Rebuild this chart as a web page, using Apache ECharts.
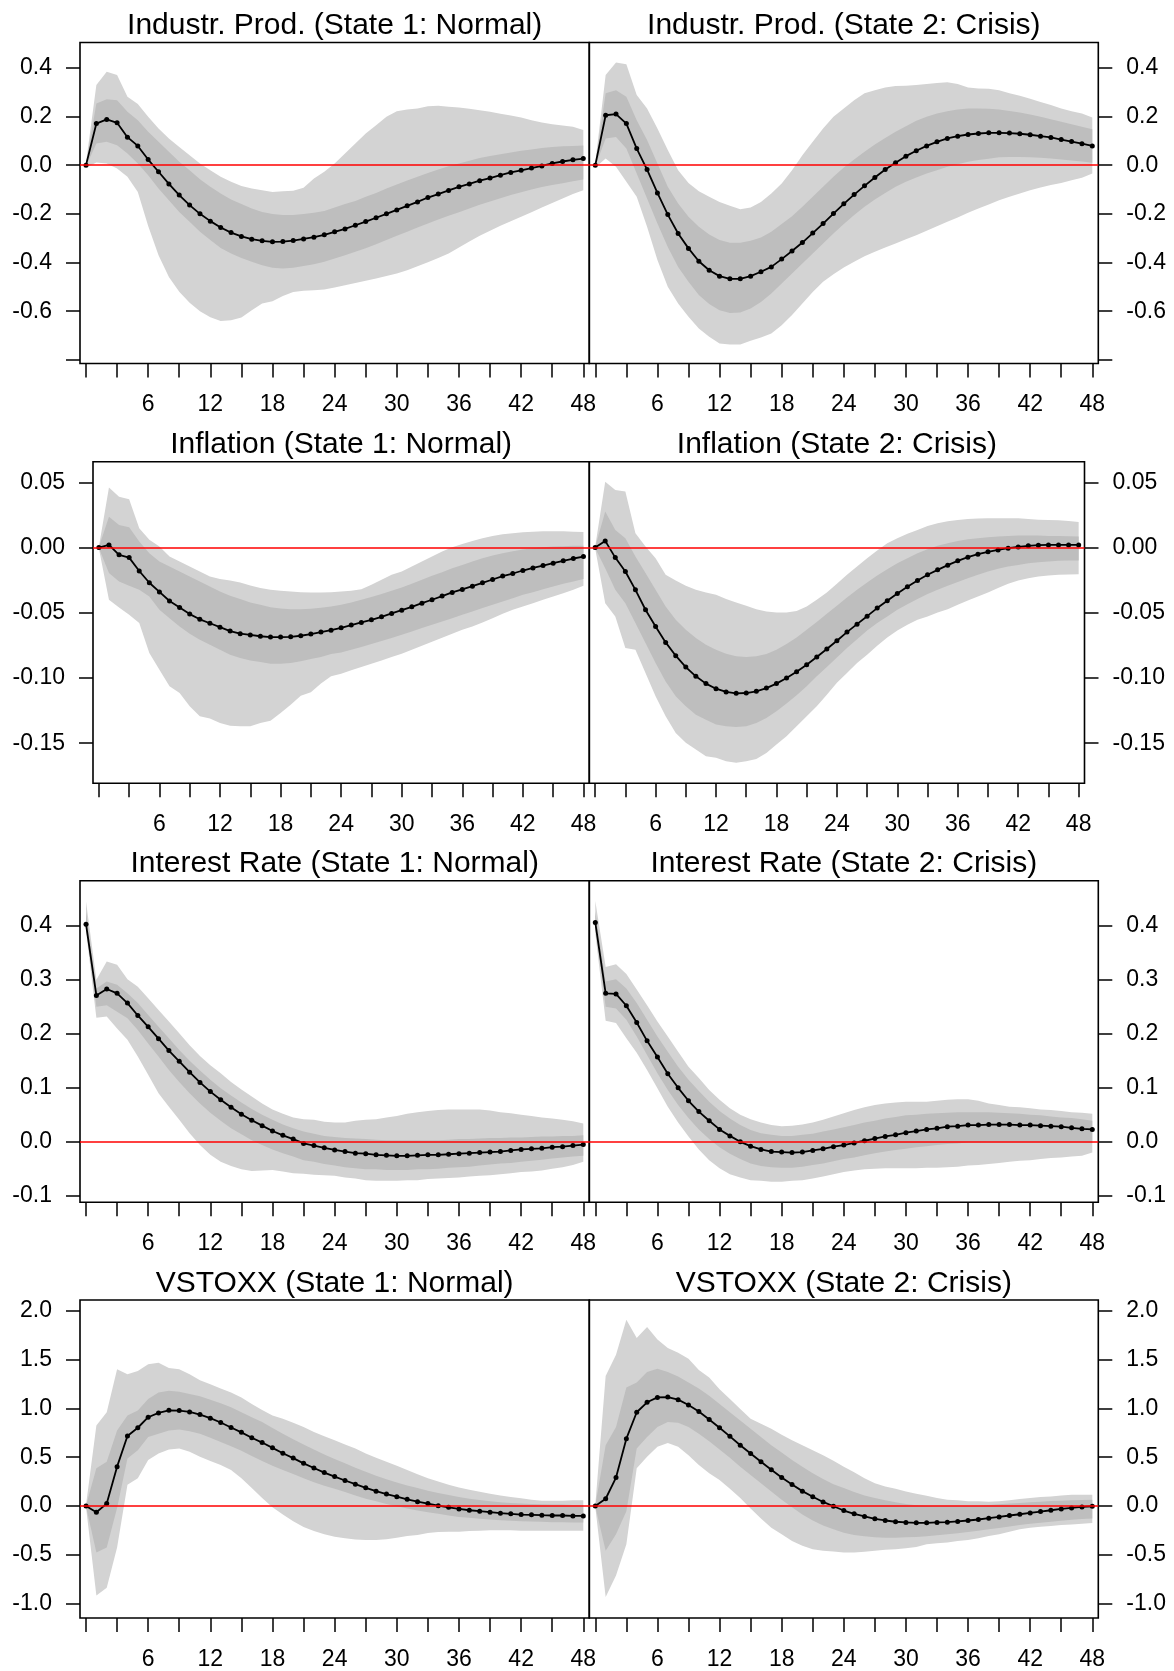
<!DOCTYPE html>
<html>
<head>
<meta charset="utf-8">
<script src="https://cdn.jsdelivr.net/npm/echarts@6/dist/echarts.min.js"></script>
<style>
html,body{margin:0;padding:0;background:#fff;}
#chart{width:1174px;height:1671px;}
</style>
</head>
<body>
<div id="chart"></div>
<script>
// ---------------- DATA ----------------
const horizon = Array.from({length: 49}, (_, i) => i); // months 0..48
const xTickValues = [0,3,6,9,12,15,18,21,24,27,30,33,36,39,42,45,48];
const xLabelValues = [6,12,18,24,30,36,42,48];

const titles = [
  ['Industr. Prod. (State 1: Normal)', 'Industr. Prod. (State 2: Crisis)'],
  ['Inflation (State 1: Normal)', 'Inflation (State 2: Crisis)'],
  ['Interest Rate (State 1: Normal)', 'Interest Rate (State 2: Crisis)'],
  ['VSTOXX (State 1: Normal)', 'VSTOXX (State 2: Crisis)']
];

const yTicksIP = [-0.8,-0.6,-0.4,-0.2,0,0.2,0.4];
const yLabelsIP = [-0.6,-0.4,-0.2,0,0.2,0.4];
const yTicksINF = [-0.15,-0.1,-0.05,0,0.05];
const yTicksIR = [-0.1,0,0.1,0.2,0.3,0.4];
const yTicksVS = [-1,-0.5,0,0.5,1,1.5,2];

// Industrial production, state 1
const ipN_med = [0,0.171,0.188,0.174,0.115,0.079,0.023,-0.027,-0.077,-0.123,-0.164,-0.2,-0.23,-0.256,-0.277,-0.293,-0.304,-0.311,-0.315,-0.314,-0.31,-0.303,-0.296,-0.286,-0.274,-0.262,-0.247,-0.232,-0.216,-0.2,-0.184,-0.167,-0.151,-0.133,-0.119,-0.104,-0.089,-0.077,-0.064,-0.053,-0.041,-0.03,-0.021,-0.012,-0.003,0.007,0.015,0.022,0.027];
const ipN_oUp = [0.01,0.329,0.384,0.37,0.281,0.251,0.199,0.151,0.11,0.075,0.041,0.007,-0.021,-0.048,-0.068,-0.086,-0.096,-0.103,-0.11,-0.107,-0.105,-0.093,-0.055,-0.027,0.007,0.048,0.089,0.13,0.164,0.199,0.222,0.229,0.233,0.242,0.244,0.24,0.237,0.232,0.226,0.219,0.211,0.204,0.196,0.185,0.175,0.168,0.163,0.158,0.144];
const ipN_oLo = [-0.01,0.011,0.007,-0.014,-0.048,-0.11,-0.25,-0.37,-0.46,-0.52,-0.565,-0.6,-0.625,-0.64,-0.637,-0.626,-0.596,-0.568,-0.559,-0.538,-0.521,-0.516,-0.514,-0.511,-0.503,-0.493,-0.484,-0.475,-0.466,-0.455,-0.445,-0.432,-0.415,-0.399,-0.381,-0.363,-0.338,-0.314,-0.29,-0.27,-0.249,-0.23,-0.212,-0.193,-0.174,-0.155,-0.137,-0.119,-0.103];
const ipN_iUp = [0.005,0.253,0.271,0.267,0.219,0.185,0.137,0.096,0.055,0.014,-0.021,-0.058,-0.089,-0.116,-0.141,-0.16,-0.178,-0.192,-0.201,-0.205,-0.205,-0.201,-0.196,-0.188,-0.174,-0.16,-0.147,-0.13,-0.114,-0.096,-0.079,-0.063,-0.048,-0.032,-0.018,-0.004,0.007,0.018,0.029,0.038,0.045,0.052,0.059,0.064,0.071,0.075,0.078,0.079,0.081];
const ipN_iLo = [-0.005,0.089,0.096,0.082,0.048,0.007,-0.041,-0.096,-0.144,-0.192,-0.233,-0.274,-0.308,-0.34,-0.363,-0.381,-0.397,-0.411,-0.422,-0.425,-0.422,-0.414,-0.407,-0.397,-0.384,-0.37,-0.356,-0.341,-0.325,-0.308,-0.29,-0.274,-0.256,-0.24,-0.223,-0.208,-0.193,-0.178,-0.163,-0.149,-0.136,-0.123,-0.111,-0.1,-0.09,-0.082,-0.074,-0.066,-0.059];

// Industrial production, state 2
const ipC_med = [0,0.205,0.21,0.171,0.068,-0.018,-0.114,-0.203,-0.281,-0.342,-0.395,-0.432,-0.456,-0.467,-0.467,-0.456,-0.438,-0.418,-0.386,-0.353,-0.318,-0.279,-0.24,-0.199,-0.159,-0.121,-0.085,-0.051,-0.018,0.01,0.037,0.059,0.079,0.096,0.11,0.119,0.126,0.13,0.133,0.133,0.132,0.129,0.125,0.119,0.114,0.105,0.097,0.088,0.079];
const ipC_oUp = [0.01,0.37,0.422,0.415,0.288,0.233,0.151,0.062,-0.021,-0.073,-0.107,-0.13,-0.151,-0.167,-0.181,-0.174,-0.151,-0.116,-0.075,-0.021,0.041,0.096,0.151,0.199,0.233,0.267,0.295,0.308,0.319,0.325,0.326,0.329,0.333,0.338,0.341,0.333,0.319,0.315,0.314,0.308,0.295,0.285,0.273,0.26,0.247,0.233,0.222,0.212,0.196];
const ipC_oLo = [-0.01,0.027,-0.007,-0.068,-0.13,-0.253,-0.39,-0.5,-0.568,-0.623,-0.671,-0.705,-0.733,-0.737,-0.737,-0.722,-0.708,-0.692,-0.658,-0.616,-0.568,-0.521,-0.479,-0.448,-0.421,-0.397,-0.374,-0.356,-0.338,-0.322,-0.304,-0.288,-0.27,-0.251,-0.233,-0.215,-0.196,-0.178,-0.162,-0.144,-0.13,-0.116,-0.103,-0.092,-0.082,-0.073,-0.062,-0.052,-0.034];
const ipC_iUp = [0.005,0.295,0.308,0.281,0.185,0.103,0.007,-0.089,-0.158,-0.212,-0.253,-0.285,-0.308,-0.319,-0.319,-0.311,-0.297,-0.274,-0.242,-0.21,-0.171,-0.13,-0.089,-0.048,-0.01,0.023,0.055,0.085,0.112,0.137,0.16,0.182,0.199,0.212,0.222,0.229,0.233,0.233,0.232,0.229,0.223,0.216,0.208,0.199,0.189,0.178,0.168,0.158,0.148];
const ipC_iLo = [-0.005,0.11,0.116,0.068,-0.034,-0.137,-0.24,-0.336,-0.418,-0.479,-0.534,-0.571,-0.596,-0.607,-0.605,-0.589,-0.562,-0.527,-0.486,-0.445,-0.404,-0.363,-0.322,-0.281,-0.242,-0.205,-0.171,-0.141,-0.114,-0.089,-0.068,-0.051,-0.034,-0.021,-0.007,0.004,0.014,0.021,0.026,0.032,0.034,0.034,0.033,0.03,0.027,0.023,0.019,0.015,0.01];

// Inflation, state 1
const infN_med = [0,0.002,-0.0056,-0.0077,-0.018,-0.027,-0.034,-0.041,-0.046,-0.051,-0.055,-0.058,-0.061,-0.064,-0.066,-0.067,-0.068,-0.0686,-0.0686,-0.0684,-0.0676,-0.0663,-0.0648,-0.0633,-0.0615,-0.0594,-0.0574,-0.0554,-0.0531,-0.0505,-0.048,-0.0454,-0.0426,-0.04,-0.0372,-0.0344,-0.0321,-0.0296,-0.027,-0.0245,-0.0219,-0.0199,-0.0176,-0.0156,-0.0138,-0.012,-0.0102,-0.0084,-0.0069];
const infN_oUp = [0.0005,0.046,0.039,0.037,0.0148,0.0059,0.0008,-0.0069,-0.0107,-0.0145,-0.0184,-0.0222,-0.0242,-0.0253,-0.0268,-0.0291,-0.0311,-0.0324,-0.0332,-0.0337,-0.0342,-0.0344,-0.0344,-0.0342,-0.0337,-0.0332,-0.0319,-0.0286,-0.0247,-0.0209,-0.0184,-0.0145,-0.0107,-0.0069,-0.0031,0.0003,0.0028,0.0051,0.0071,0.0089,0.0102,0.011,0.0117,0.0122,0.0125,0.0125,0.0125,0.0122,0.012];
const infN_oLo = [-0.0005,-0.04,-0.0459,-0.0515,-0.0579,-0.0809,-0.0936,-0.1064,-0.1115,-0.1217,-0.1293,-0.1311,-0.1344,-0.1365,-0.137,-0.137,-0.1344,-0.1327,-0.1268,-0.1204,-0.1135,-0.111,-0.1043,-0.0987,-0.0967,-0.0941,-0.0916,-0.089,-0.0865,-0.0839,-0.0814,-0.0783,-0.0753,-0.0722,-0.0691,-0.0661,-0.063,-0.0605,-0.0574,-0.0541,-0.0508,-0.0477,-0.0452,-0.0426,-0.04,-0.0375,-0.035,-0.0324,-0.0293];
const infN_iUp = [0.0003,0.0237,0.0173,0.0156,0.0046,-0.0043,-0.0107,-0.0145,-0.0184,-0.0222,-0.026,-0.0298,-0.0337,-0.037,-0.0395,-0.0421,-0.0439,-0.0457,-0.0467,-0.0472,-0.0472,-0.0469,-0.0462,-0.0452,-0.0439,-0.0421,-0.04,-0.038,-0.0357,-0.0332,-0.0306,-0.0278,-0.0247,-0.0217,-0.0189,-0.0158,-0.0133,-0.0107,-0.0082,-0.0061,-0.0043,-0.0028,-0.0015,-0.0005,0.0003,0.0008,0.001,0.0013,0.0013];
const infN_iLo = [-0.0003,-0.0196,-0.026,-0.0293,-0.0324,-0.0375,-0.0477,-0.0541,-0.0605,-0.0661,-0.0707,-0.0745,-0.0783,-0.0821,-0.0847,-0.0865,-0.0878,-0.089,-0.089,-0.0885,-0.0872,-0.0855,-0.0839,-0.0816,-0.0804,-0.0783,-0.0763,-0.074,-0.0717,-0.0694,-0.0668,-0.0643,-0.0617,-0.0592,-0.0566,-0.0541,-0.0515,-0.049,-0.0464,-0.0439,-0.0413,-0.0388,-0.0362,-0.0342,-0.0319,-0.0298,-0.0278,-0.026,-0.0242];

// Inflation, state 2
const infC_med = [0,0.0051,-0.0077,-0.0184,-0.0324,-0.0477,-0.0605,-0.0727,-0.0829,-0.0916,-0.0987,-0.1043,-0.1082,-0.1107,-0.1117,-0.1115,-0.1102,-0.1077,-0.1043,-0.1,-0.0952,-0.0898,-0.0839,-0.0778,-0.0714,-0.0648,-0.0587,-0.0526,-0.0464,-0.0408,-0.0352,-0.0301,-0.0253,-0.0209,-0.0171,-0.0135,-0.0102,-0.0074,-0.0051,-0.0033,-0.0018,-0.0005,0.0005,0.0013,0.0018,0.002,0.002,0.002,0.002];
const infC_oUp = [0.0005,0.0505,0.0441,0.0429,0.011,0.0008,-0.0082,-0.0209,-0.0253,-0.0293,-0.0324,-0.0344,-0.0362,-0.0395,-0.0421,-0.0446,-0.0472,-0.049,-0.0497,-0.0497,-0.0487,-0.0452,-0.04,-0.0344,-0.0278,-0.0209,-0.0145,-0.0082,-0.0023,0.0033,0.0071,0.0105,0.0135,0.0166,0.0186,0.0202,0.0212,0.0219,0.0222,0.0224,0.0224,0.0224,0.0224,0.0219,0.0214,0.0212,0.0209,0.0204,0.0196];
const infC_oLo = [-0.0005,-0.0426,-0.0528,-0.077,-0.0783,-0.0962,-0.114,-0.1293,-0.1421,-0.1497,-0.1548,-0.16,-0.1612,-0.1638,-0.165,-0.1638,-0.162,-0.1574,-0.151,-0.1446,-0.137,-0.1293,-0.1217,-0.1128,-0.1036,-0.0962,-0.0885,-0.0821,-0.0753,-0.0689,-0.0635,-0.0592,-0.0554,-0.0528,-0.0497,-0.0472,-0.0439,-0.0406,-0.0375,-0.0344,-0.0311,-0.0278,-0.0253,-0.0235,-0.0222,-0.0214,-0.0209,-0.0207,-0.0204];
const infC_iUp = [0.0003,0.0276,0.0135,0.0071,-0.0069,-0.0196,-0.0324,-0.0452,-0.0554,-0.063,-0.0694,-0.0745,-0.0783,-0.0814,-0.0834,-0.0839,-0.0834,-0.0816,-0.0783,-0.074,-0.0689,-0.063,-0.0571,-0.0508,-0.0446,-0.0383,-0.0324,-0.0268,-0.0214,-0.0166,-0.012,-0.0082,-0.0043,-0.0013,0.0013,0.0033,0.0051,0.0064,0.0071,0.0079,0.0084,0.0089,0.0092,0.0092,0.0092,0.0089,0.0089,0.0087,0.0084];
const infC_iLo = [-0.0003,-0.0158,-0.0324,-0.0426,-0.0579,-0.0732,-0.0885,-0.1026,-0.114,-0.1217,-0.1281,-0.1319,-0.1357,-0.137,-0.1375,-0.137,-0.1344,-0.1306,-0.1255,-0.1196,-0.1133,-0.1064,-0.0987,-0.0916,-0.0842,-0.077,-0.0702,-0.0635,-0.0579,-0.0528,-0.0477,-0.0434,-0.0395,-0.0357,-0.0324,-0.0293,-0.0265,-0.0235,-0.0209,-0.0184,-0.0163,-0.0145,-0.0133,-0.012,-0.0112,-0.0107,-0.0102,-0.0099,-0.0099];

// Interest rate, state 1
const irN_med = [0.402,0.27,0.282,0.274,0.256,0.233,0.212,0.19,0.168,0.148,0.128,0.109,0.092,0.077,0.063,0.05,0.039,0.029,0.019,0.011,0.004,-0.004,-0.008,-0.012,-0.016,-0.019,-0.022,-0.023,-0.025,-0.026,-0.027,-0.027,-0.026,-0.025,-0.025,-0.024,-0.023,-0.022,-0.021,-0.02,-0.019,-0.017,-0.015,-0.014,-0.013,-0.011,-0.01,-0.008,-0.006];
const irN_oUp = [0.444,0.299,0.333,0.327,0.3,0.286,0.265,0.243,0.222,0.2,0.178,0.158,0.141,0.126,0.11,0.096,0.083,0.07,0.059,0.051,0.044,0.041,0.04,0.036,0.035,0.035,0.038,0.04,0.041,0.044,0.047,0.051,0.054,0.056,0.058,0.059,0.059,0.059,0.059,0.057,0.054,0.052,0.049,0.047,0.044,0.042,0.04,0.037,0.033];
const irN_oLo = [0.39,0.229,0.231,0.209,0.188,0.157,0.123,0.089,0.064,0.04,0.015,-0.007,-0.025,-0.038,-0.046,-0.052,-0.055,-0.054,-0.053,-0.056,-0.059,-0.06,-0.062,-0.063,-0.064,-0.067,-0.069,-0.072,-0.073,-0.073,-0.073,-0.072,-0.072,-0.07,-0.069,-0.068,-0.067,-0.065,-0.064,-0.063,-0.061,-0.059,-0.057,-0.056,-0.054,-0.051,-0.048,-0.044,-0.038];
const irN_iUp = [0.425,0.283,0.296,0.29,0.274,0.256,0.234,0.212,0.191,0.169,0.149,0.131,0.114,0.098,0.085,0.072,0.06,0.049,0.04,0.031,0.024,0.018,0.014,0.01,0.008,0.006,0.005,0.004,0.003,0.002,0.002,0.002,0.002,0.002,0.002,0.003,0.004,0.004,0.005,0.006,0.006,0.007,0.007,0.008,0.009,0.009,0.01,0.01,0.011];
const irN_iLo = [0.395,0.249,0.252,0.24,0.228,0.206,0.181,0.157,0.132,0.11,0.089,0.07,0.053,0.038,0.024,0.013,0.002,-0.007,-0.015,-0.022,-0.028,-0.035,-0.038,-0.042,-0.045,-0.048,-0.05,-0.052,-0.052,-0.053,-0.053,-0.053,-0.052,-0.052,-0.051,-0.049,-0.048,-0.047,-0.045,-0.043,-0.041,-0.04,-0.038,-0.036,-0.034,-0.032,-0.03,-0.028,-0.027];

// Interest rate, state 2
const irC_med = [0.405,0.274,0.273,0.251,0.22,0.186,0.156,0.125,0.099,0.075,0.055,0.038,0.022,0.01,-0.001,-0.009,-0.015,-0.019,-0.02,-0.021,-0.02,-0.017,-0.014,-0.01,-0.007,-0.003,0.001,0.005,0.009,0.012,0.016,0.019,0.022,0.024,0.027,0.028,0.03,0.03,0.031,0.031,0.031,0.03,0.03,0.029,0.028,0.027,0.025,0.023,0.022];
const irC_oUp = [0.445,0.323,0.328,0.31,0.281,0.252,0.222,0.194,0.166,0.138,0.117,0.095,0.077,0.061,0.049,0.041,0.035,0.03,0.028,0.029,0.031,0.035,0.04,0.046,0.052,0.058,0.063,0.067,0.07,0.072,0.073,0.073,0.073,0.075,0.077,0.078,0.078,0.075,0.07,0.067,0.064,0.063,0.061,0.059,0.058,0.056,0.054,0.053,0.051];
const irC_oLo = [0.385,0.223,0.219,0.191,0.164,0.132,0.098,0.064,0.035,0.009,-0.015,-0.035,-0.05,-0.061,-0.067,-0.072,-0.073,-0.075,-0.075,-0.073,-0.072,-0.069,-0.065,-0.061,-0.057,-0.054,-0.052,-0.051,-0.05,-0.05,-0.05,-0.05,-0.049,-0.049,-0.048,-0.047,-0.045,-0.044,-0.042,-0.04,-0.038,-0.036,-0.035,-0.033,-0.031,-0.03,-0.028,-0.027,-0.021];
const irC_iUp = [0.425,0.296,0.3,0.283,0.256,0.225,0.194,0.166,0.138,0.114,0.093,0.073,0.056,0.042,0.03,0.021,0.015,0.012,0.01,0.01,0.012,0.014,0.018,0.022,0.026,0.03,0.035,0.038,0.042,0.045,0.048,0.049,0.051,0.052,0.053,0.054,0.054,0.054,0.054,0.053,0.052,0.051,0.049,0.048,0.046,0.044,0.043,0.041,0.038];
const irC_iLo = [0.395,0.249,0.246,0.225,0.194,0.16,0.126,0.095,0.067,0.043,0.022,0.004,-0.011,-0.023,-0.033,-0.041,-0.046,-0.048,-0.049,-0.049,-0.047,-0.044,-0.041,-0.037,-0.033,-0.03,-0.026,-0.022,-0.019,-0.016,-0.014,-0.011,-0.009,-0.007,-0.005,-0.004,-0.002,-0.002,-0.001,-0.001,-0.001,-0.001,-0.001,-0.001,-0.002,-0.002,-0.002,-0.002,-0.003];

// VSTOXX, state 1
const vsN_med = [0,-0.064,0.024,0.403,0.717,0.802,0.91,0.954,0.981,0.978,0.964,0.937,0.9,0.856,0.805,0.755,0.7,0.65,0.596,0.541,0.491,0.437,0.389,0.342,0.301,0.261,0.223,0.186,0.152,0.122,0.095,0.068,0.044,0.024,0.003,-0.014,-0.03,-0.044,-0.054,-0.064,-0.074,-0.081,-0.088,-0.091,-0.095,-0.098,-0.098,-0.102,-0.102];
const vsN_oUp = [0.01,0.826,0.961,1.401,1.35,1.384,1.452,1.469,1.415,1.401,1.35,1.289,1.249,1.205,1.164,1.113,1.046,0.985,0.927,0.893,0.853,0.809,0.758,0.714,0.673,0.629,0.589,0.538,0.494,0.453,0.413,0.369,0.325,0.284,0.25,0.217,0.19,0.166,0.146,0.125,0.108,0.091,0.078,0.064,0.054,0.054,0.054,0.058,0.058];
const vsN_oLo = [-0.01,-0.917,-0.839,-0.426,0.217,0.284,0.47,0.538,0.579,0.589,0.555,0.504,0.46,0.42,0.369,0.284,0.183,0.081,-0.014,-0.088,-0.156,-0.217,-0.257,-0.291,-0.315,-0.332,-0.345,-0.349,-0.349,-0.342,-0.325,-0.308,-0.298,-0.277,-0.267,-0.264,-0.264,-0.257,-0.254,-0.25,-0.25,-0.25,-0.254,-0.254,-0.254,-0.254,-0.254,-0.254,-0.254];
const vsN_iUp = [0.005,0.386,0.453,0.775,0.927,0.978,1.096,1.164,1.181,1.171,1.147,1.124,1.09,1.052,1.012,0.961,0.91,0.86,0.799,0.741,0.684,0.629,0.579,0.528,0.481,0.437,0.393,0.352,0.311,0.274,0.24,0.21,0.183,0.156,0.132,0.112,0.091,0.074,0.061,0.047,0.037,0.03,0.024,0.02,0.017,0.014,0.014,0.01,0.01];
const vsN_iLo = [-0.005,-0.477,-0.426,-0.02,0.487,0.572,0.707,0.741,0.775,0.785,0.765,0.741,0.7,0.657,0.613,0.565,0.511,0.46,0.413,0.369,0.328,0.284,0.244,0.206,0.176,0.142,0.108,0.074,0.047,0.02,-0.003,-0.027,-0.047,-0.064,-0.081,-0.098,-0.112,-0.122,-0.132,-0.139,-0.146,-0.152,-0.156,-0.159,-0.162,-0.166,-0.166,-0.169,-0.169];

// VSTOXX, state 2
const vsC_med = [0,0.074,0.291,0.69,0.961,1.063,1.113,1.117,1.09,1.036,0.968,0.887,0.802,0.714,0.623,0.538,0.453,0.372,0.291,0.22,0.152,0.095,0.041,-0.003,-0.047,-0.081,-0.108,-0.132,-0.149,-0.162,-0.169,-0.173,-0.173,-0.169,-0.166,-0.159,-0.149,-0.139,-0.125,-0.112,-0.098,-0.085,-0.071,-0.058,-0.044,-0.03,-0.02,-0.01,-0.003];
const vsC_oUp = [0.01,1.333,1.55,1.909,1.722,1.834,1.706,1.621,1.57,1.509,1.394,1.316,1.198,1.096,0.995,0.893,0.843,0.792,0.731,0.673,0.623,0.572,0.521,0.464,0.403,0.345,0.284,0.234,0.2,0.176,0.149,0.125,0.105,0.081,0.064,0.058,0.047,0.047,0.044,0.047,0.058,0.071,0.081,0.091,0.098,0.108,0.115,0.115,0.115];
const vsC_oLo = [-0.01,-0.934,-0.714,-0.393,0.386,0.504,0.606,0.646,0.606,0.521,0.42,0.335,0.267,0.176,0.081,-0.027,-0.129,-0.223,-0.291,-0.359,-0.409,-0.443,-0.46,-0.467,-0.477,-0.477,-0.47,-0.46,-0.45,-0.443,-0.433,-0.42,-0.393,-0.382,-0.376,-0.359,-0.349,-0.332,-0.308,-0.291,-0.264,-0.24,-0.223,-0.213,-0.206,-0.196,-0.19,-0.183,-0.176];
const vsC_iUp = [0.005,0.623,0.809,1.215,1.266,1.374,1.408,1.374,1.327,1.266,1.205,1.13,1.046,0.961,0.876,0.792,0.707,0.623,0.548,0.47,0.403,0.335,0.277,0.223,0.183,0.142,0.108,0.081,0.058,0.037,0.02,0.007,0,-0.003,-0.003,-0.003,0,0.003,0.01,0.017,0.024,0.03,0.037,0.044,0.051,0.054,0.058,0.061,0.064];
const vsC_iLo = [-0.005,-0.46,-0.291,-0.054,0.589,0.707,0.809,0.86,0.853,0.809,0.741,0.663,0.579,0.494,0.403,0.318,0.234,0.149,0.064,-0.014,-0.088,-0.149,-0.2,-0.24,-0.274,-0.298,-0.311,-0.321,-0.325,-0.325,-0.321,-0.318,-0.311,-0.301,-0.291,-0.281,-0.267,-0.254,-0.24,-0.227,-0.21,-0.196,-0.183,-0.173,-0.162,-0.152,-0.142,-0.135,-0.129];

// ---------------- LAYOUT / STYLE ----------------
const FONT = '"Liberation Sans", Arial, Helvetica, sans-serif';
const OUTER = '#D3D3D3', INNER = '#BEBEBE';
const rows = [
  {top: 42.5, h: 321, L: [80, 509.3], R: [589.3, 509], ymin: -0.815, ymax: 0.504, ticks: yTicksIP, labels: yLabelsIP, dec: 1,
   panels: [[ipN_med, ipN_oUp, ipN_oLo, ipN_iUp, ipN_iLo], [ipC_med, ipC_oUp, ipC_oLo, ipC_iUp, ipC_iLo]]},
  {top: 461.7, h: 321.6, L: [93, 496.3], R: [589.3, 495.2], ymin: -0.1807, ymax: 0.0658, ticks: yTicksINF, labels: yTicksINF, dec: 2,
   panels: [[infN_med, infN_oUp, infN_oLo, infN_iUp, infN_iLo], [infC_med, infC_oUp, infC_oLo, infC_iUp, infC_iLo]]},
  {top: 880.7, h: 321.6, L: [80, 509.3], R: [589.3, 509], ymin: -0.113, ymax: 0.4826, ticks: yTicksIR, labels: yTicksIR, dec: 1,
   panels: [[irN_med, irN_oUp, irN_oLo, irN_iUp, irN_iLo], [irC_med, irC_oUp, irC_oLo, irC_iUp, irC_iLo]]},
  {top: 1300, h: 321, L: [80, 509.3], R: [589.3, 509], ymin: -1.149, ymax: 2.112, ticks: yTicksVS, labels: yTicksVS, dec: 1,
   panels: [[vsN_med, vsN_oUp, vsN_oLo, vsN_iUp, vsN_iLo], [vsC_med, vsC_oUp, vsC_oLo, vsC_iUp, vsC_iLo]]}
];

const grids = [], xAxes = [], yAxes = [], series = [], graphics = [];

function bandSeries(gi, up, lo, color, z) {
  return {
    type: 'custom', xAxisIndex: gi, yAxisIndex: gi, silent: true, z: z, animation: false,
    data: horizon.map(i => [i, up[i], lo[i]]),
    encode: {x: 0, y: [1, 2]},
    renderItem: function (params, api) {
      if (params.dataIndex !== 0) return null;
      const pts = [];
      for (let i = 0; i < up.length; i++) pts.push(api.coord([horizon[i], up[i]]));
      for (let i = lo.length - 1; i >= 0; i--) pts.push(api.coord([horizon[i], lo[i]]));
      return {type: 'polygon', shape: {points: pts}, style: {fill: color, stroke: null}};
    }
  };
}

rows.forEach((row, r) => {
  [0, 1].forEach(side => {
    const gi = grids.length;
    const geo = side === 0 ? row.L : row.R;
    grids.push({left: geo[0], top: row.top, width: geo[1], height: row.h, show: true,
      borderColor: '#000', borderWidth: 1.6, backgroundColor: 'transparent', containLabel: false});
    xAxes.push({gridIndex: gi, type: 'value', min: -0.58, max: 48.58, position: 'bottom',
      axisLine: {show: false, onZero: false}, splitLine: {show: false},
      axisTick: {show: true, customValues: xTickValues, length: 14, lineStyle: {color: '#000', width: 1.5}},
      axisLabel: {show: true, customValues: xLabelValues, fontSize: 23, color: '#000', fontFamily: FONT, margin: 30}});
    yAxes.push({gridIndex: gi, type: 'value', position: side === 0 ? 'left' : 'right',
      min: row.ymin, max: row.ymax,
      axisLine: {show: false, onZero: false}, splitLine: {show: false},
      axisTick: {show: true, customValues: row.ticks, length: 14, lineStyle: {color: '#000', width: 1.5}},
      axisLabel: {show: true, customValues: row.labels, fontSize: 23, color: '#000', fontFamily: FONT, margin: 28,
        formatter: (v) => Number(v).toFixed(row.dec)}});
    const p = row.panels[side];
    series.push(bandSeries(gi, p[1], p[2], OUTER, 1));
    series.push(bandSeries(gi, p[3], p[4], INNER, 2));
    series.push({type: 'line', xAxisIndex: gi, yAxisIndex: gi, z: 3, silent: true, animation: false,
      data: horizon.map(i => [i, p[0][i]]), showSymbol: false, symbol: 'none',
      lineStyle: {opacity: 0},
      markLine: {silent: true, symbol: 'none', animation: false, label: {show: false},
        lineStyle: {color: '#FF0000', width: 1.6, type: 'solid'}, data: [{yAxis: 0}]}});
    series.push({type: 'line', xAxisIndex: gi, yAxisIndex: gi, z: 4, silent: true, animation: false,
      data: horizon.map(i => [i, p[0][i]]), symbol: 'circle', symbolSize: 5, showSymbol: true,
      itemStyle: {color: '#000'}, lineStyle: {color: '#000', width: 1.8}});
    graphics.push({type: 'text', x: geo[0] + geo[1] / 2, y: row.top - 16.5,
      style: {text: titles[r][side], fill: '#000', font: '30px ' + FONT,
        align: 'center', verticalAlign: 'middle', textAlign: 'center', textVerticalAlign: 'middle'}});
  });
});

const chart = echarts.init(document.getElementById('chart'), null, {renderer: 'canvas'});
chart.setOption({
  animation: false,
  backgroundColor: '#fff',
  textStyle: {fontFamily: FONT},
  grid: grids, xAxis: xAxes, yAxis: yAxes, series: series,
  graphic: {elements: graphics}
});
</script>
</body>
</html>
